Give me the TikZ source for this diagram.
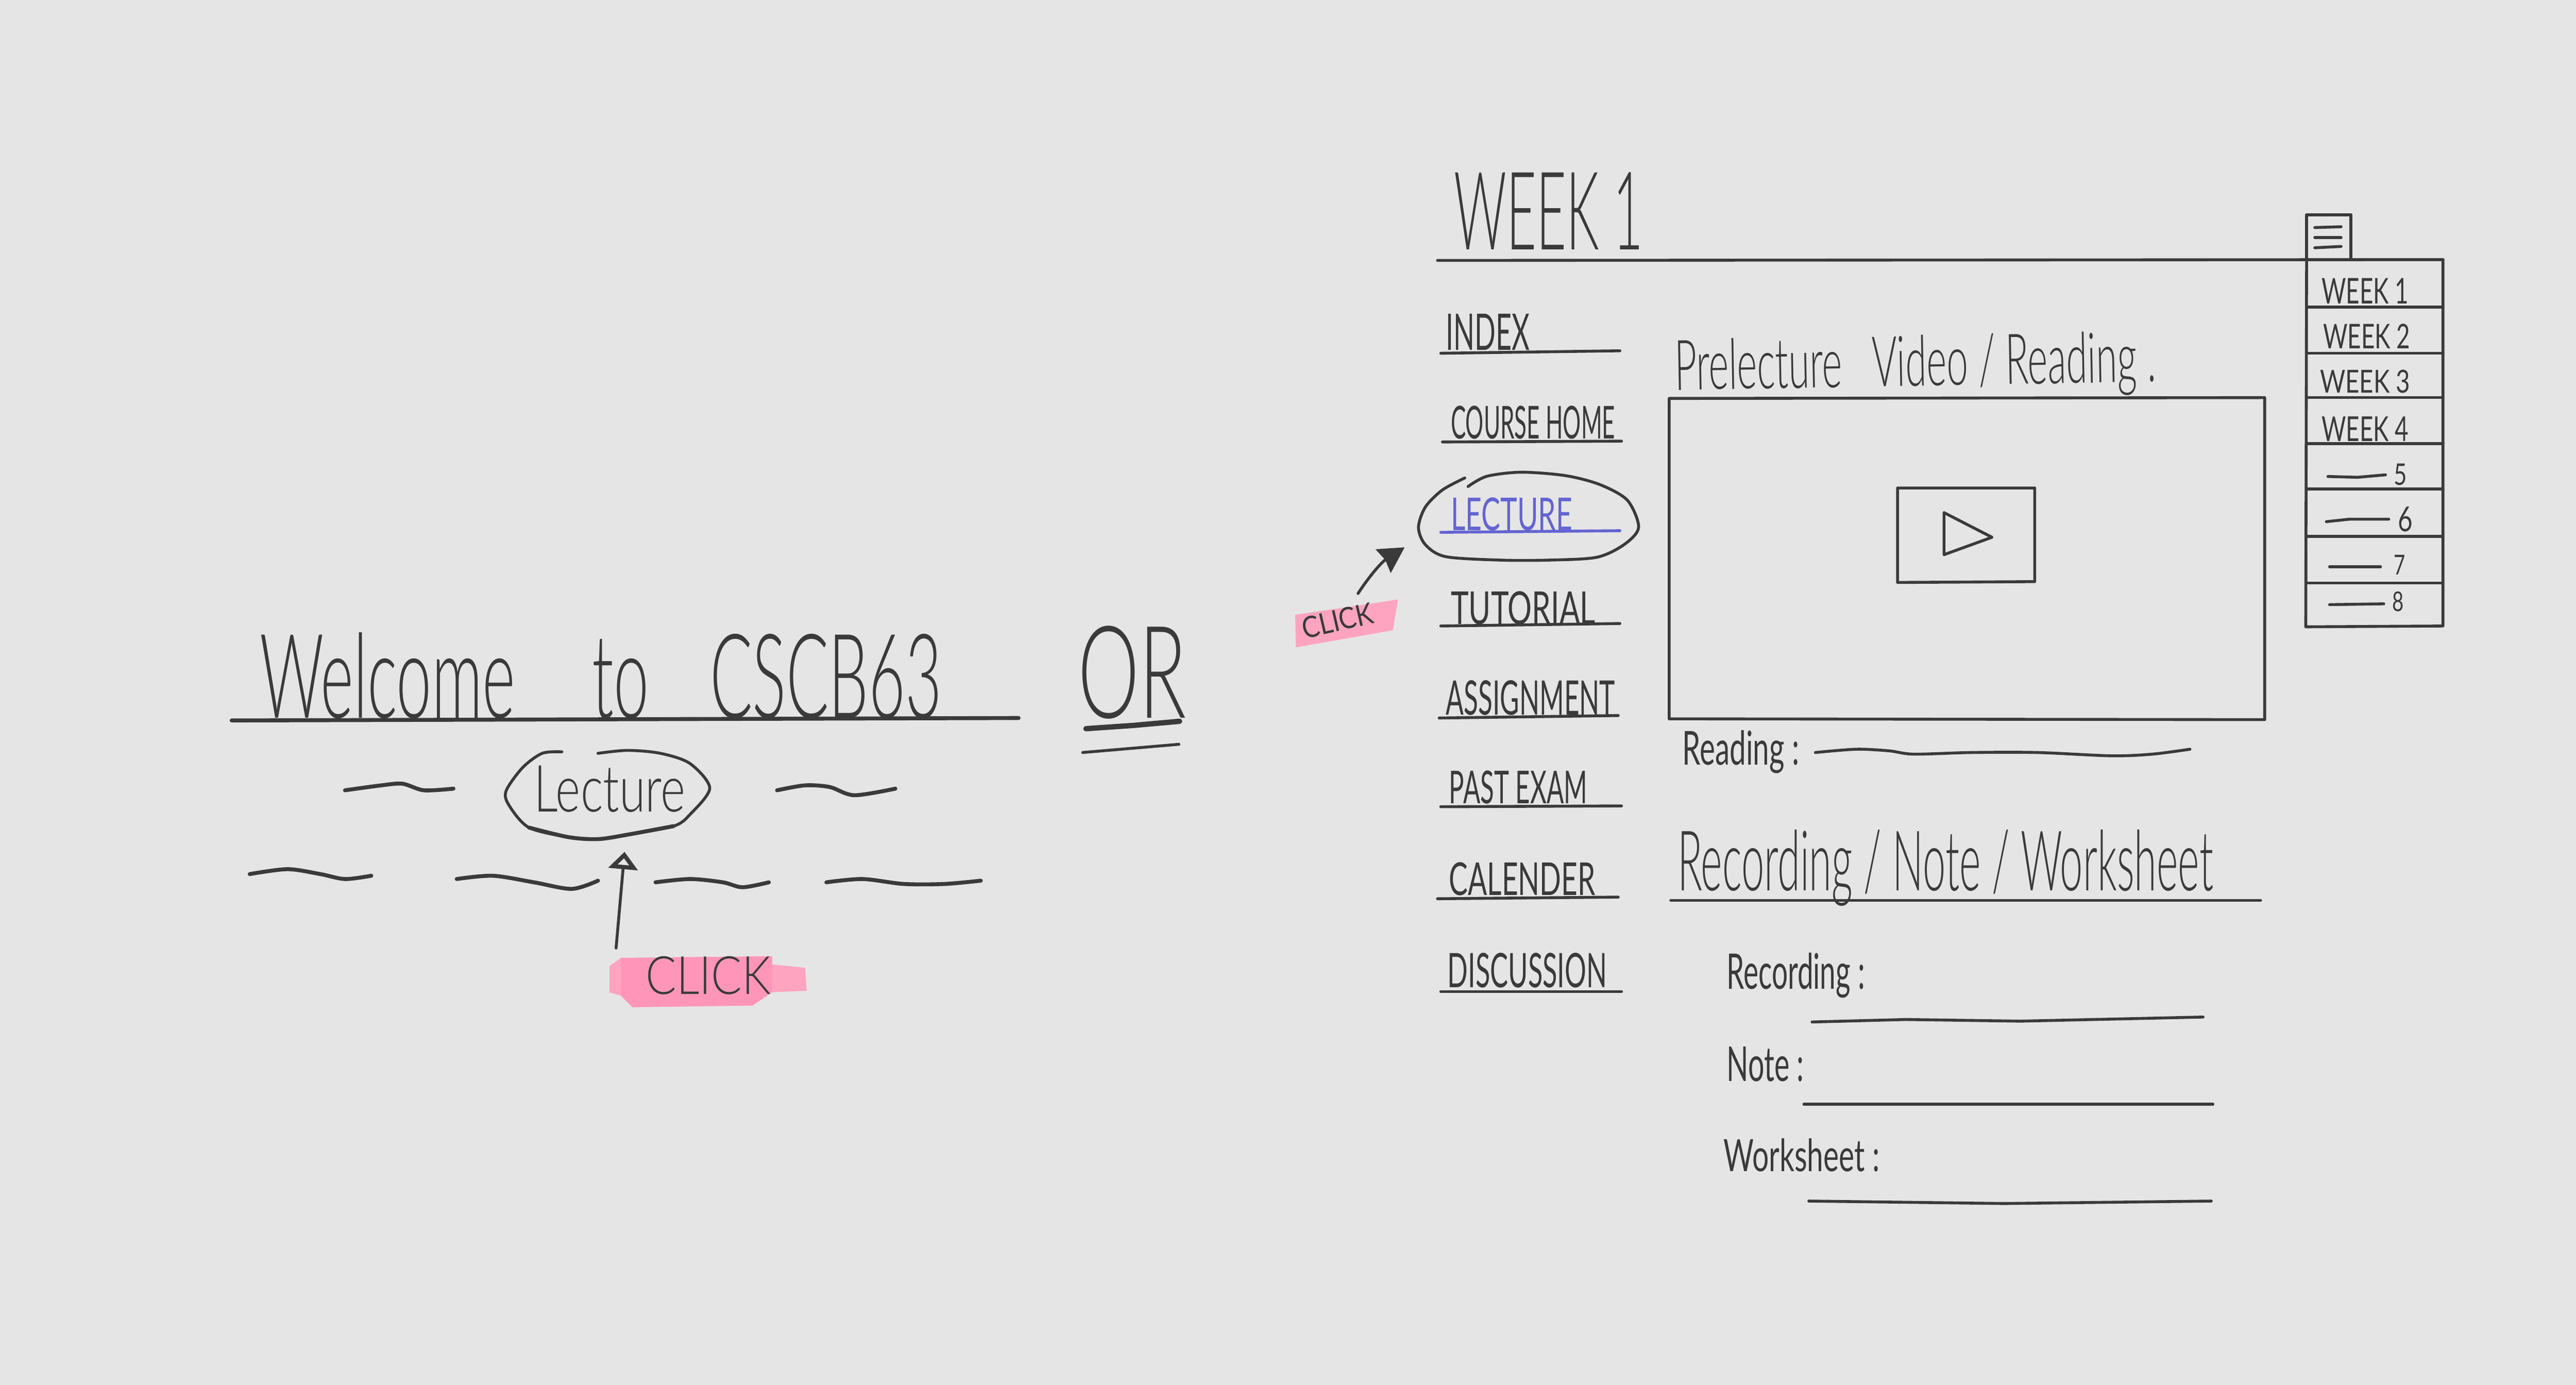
\documentclass[tikz,border=0pt]{standalone}
\usepackage{fontspec}
\usepackage{graphicx}
\usetikzlibrary{arrows.meta}
\newfontfamily\lighthand{Lato Light}
\newfontfamily\plainhand{Lato}
\newlength\pxu
\setlength\pxu{0.05cm}
\newcommand{\bighand}[3]{\resizebox{#1\pxu}{#2\pxu}{\lighthand #3}}
\newcommand{\smallhand}[3]{\resizebox{#1\pxu}{#2\pxu}{\plainhand #3}}
\definecolor{paper}{HTML}{E5E5E5}
\definecolor{ink}{HTML}{3A3A3A}
\definecolor{marker}{HTML}{FFA4C0}
\definecolor{darkmarker}{HTML}{FF96BA}
\definecolor{linkblue}{HTML}{6464D2}

\begin{document}
\begin{tikzpicture}[x=0.05cm, y=-0.05cm,
            pen/.style={draw=ink, line width=2.5pt, line cap=round, line join=round},
            thickpen/.style={pen, line width=3.4pt},
            label/.style={text=ink, inner sep=0pt, anchor=base west}]
            \useasboundingbox (0,0) rectangle (1568,842.8);
            \fill[paper] (0,0) rectangle (1568,842.8);

            % landing page
            \fill[marker] (378,583) -- (470,582) -- (470,587) -- (490,589) -- (491,603) -- (468,604) -- (458,612) -- (385,613) -- (378,606) -- (371,604) -- (371,588) -- cycle;
            \fill[darkmarker] (378,583) -- (470,582) -- (470,604) -- (458,612) -- (385,613) -- (378,606) -- cycle;
            \node[label] (welcome) at (158,437) {\bighand{415}{52}{Welcome \hspace{9.5pt}to \hspace{7pt}CSCB63}};
            \node[label] (ortext) at (656,437) {\bighand{66}{56}{OR}};
            \node[label] (lecturea) at (325,494) {\bighand{92}{28}{Lecture}};
            \node[label] (clicka) at (393,605) {\bighand{76}{23}{CLICK}};

            \draw[thickpen] (141,438.5) -- (620,437);
            \draw[pen, line width=4.6pt] (661,443.5) -- (690,441.5) -- (718,439);
            \draw[pen] (659,458) -- (717.6,453);
            \draw[pen] plot[smooth, tension=0.5] coordinates {(364,458.5) (382,456.7) (402,458.5) (420,464.7) (432,479.7) (420,495.7) (410,502.8) (382,508) (364,510.7) (346,509.5) (322,503.7) (310,490.4) (308,481.5) (318,467.3) (330,458.5) (342,457.6)};
            \draw[thickpen] plot[smooth, tension=0.5] coordinates {(410,502.8) (382,508) (364,510.7) (346,509.5) (322,503.7)};
            \draw[thickpen] plot[smooth] coordinates {(210,481) (232,478) (245,477) (258,481) (276,480)};
            \draw[thickpen] plot[smooth] coordinates {(473,481) (490,478) (505,479) (520,484) (545,480)};
            \draw[thickpen] plot[smooth] coordinates {(152,532) (175,529) (195,532) (210,535) (226,533)};
            \draw[thickpen] plot[smooth] coordinates {(278,535) (300,533) (325,537) (348,541) (364,536)};
            \draw[thickpen] plot[smooth] coordinates {(399,537) (420,535) (440,537) (452,540) (468,537)};
            \draw[thickpen] plot[smooth] coordinates {(503,537) (525,535) (550,538) (575,538) (597,536)};

            \draw[pen, -{Triangle[open, fill=paper, length=15pt, width=25pt, line width=3.6pt]}] ([shift={(-18,-28)}]clicka.base west) -- ([shift={(9,24)}]lecturea.south);

            % course page
            \node[label] (weekone) at (885,152) {\bighand{115}{47}{WEEK 1}};
            \draw[pen] (875,158.5) -- (1487,158);

            \node[label] (index) at (880,213) {\smallhand{51}{22}{INDEX}};
            \node[label] (home) at (883,267) {\smallhand{100}{20}{COURSE HOME}};
            \node[label, text=linkblue] (lectureb) at (883,323) {\smallhand{74}{20}{LECTURE}};
            \node[label] (tutorial) at (883,380) {\smallhand{88}{20}{TUTORIAL}};
            \node[label] (assignment) at (880,435) {\smallhand{103}{21}{ASSIGNMENT}};
            \node[label] (pastexam) at (882,489) {\smallhand{84}{20}{PAST EXAM}};
            \node[label] (calender) at (882,545) {\smallhand{89}{20}{CALENDER}};
            \node[label] (discussion) at (881,601) {\smallhand{97}{21}{DISCUSSION}};

            \draw[pen] (877,215) -- (986,213.5);
            \draw[pen] (878,269) -- (987,268.5);
            \draw[pen, draw=linkblue] (877,324) -- (986,323);
            \draw[pen] (877,381) -- (986,379.5);
            \draw[pen] (876,437) -- (985,435.5);
            \draw[pen] (877,491) -- (987,490.5);
            \draw[pen] (875,547) -- (985,546);
            \draw[pen] (877,603.5) -- (987,603.5);
            \draw[pen] plot[smooth, tension=0.5] coordinates {(893.6,296.1) (905,289.9) (926,287.4) (953,289.5) (974,295) (990.6,304.5) (997.4,321) (988.5,331.5) (971.8,339.2) (942.6,340.9) (913.4,340.9) (880,338.8) (867.6,331.5) (863.4,321) (867.6,308.6) (878,298.2) (891.6,290.9)};

            \fill[marker] (788.4,374.2) -- (850.9,364.9) -- (847.8,383.6) -- (788.8,394) -- cycle;
            \node[label, rotate=13] (clickb) at (794,389) {\smallhand{44}{13}{CLICK}};
            \draw[pen, -{Stealth[inset=2pt, length=22pt, width=24pt]}] ([shift={(14,-10)}]clickb.north) to[bend left=12] ([shift={(-28,20)}]lectureb.west);

            \node[label, rotate=1] (prelecture) at (1019.4,237.4) {\bighand{293}{31}{Prelecture \hspace{5pt}Video / Reading .}};
            \draw[pen] (1016,242.5) -- (1378.5,242) -- (1378.5,438) -- (1016,437.5) -- cycle;
            \draw[pen] (1155,297) -- (1238.5,297) -- (1238.5,354) -- (1155,354.5) -- cycle;
            \draw[pen] (1183.3,312) -- (1212.5,327) -- (1183.3,337.6) -- cycle;

            \node[label] (reading) at (1024,465.4) {\smallhand{71}{21}{Reading :}};
            \draw[pen] plot[smooth] coordinates {(1105,458) (1130,456) (1150,457) (1165,459) (1200,458) (1240,458) (1285,460) (1310,459) (1333,456)};

            \node[label] (recordhead) at (1021,542) {\bighand{326}{37}{Recording / Note / Worksheet}};
            \draw[pen] (1017,548) -- (1376,548);

            \node[label] (recording) at (1051,602) {\smallhand{84}{22}{Recording :}};
            \node[label] (note) at (1051,658) {\smallhand{47}{21}{Note :}};
            \node[label] (worksheet) at (1049,713) {\smallhand{95}{20}{Worksheet :}};
            \draw[pen] (1103,622) -- (1160,620.5) -- (1230,621.5) -- (1341,619);
            \draw[pen] (1098,672) -- (1347,672);
            \draw[pen] (1101,731) -- (1220,732.5) -- (1346,731);

            % week menu
            \draw[pen] (1404,158) -- (1404,130.7) -- (1431,130.7) -- (1431,158);
            \draw[pen] (1409,138.5) -- (1425,138);
            \draw[pen] (1409,144.5) -- (1425,144.5);
            \draw[pen] (1409,150.8) -- (1425,150);
            \draw[pen] (1404,158) -- (1487,158) -- (1487,381) -- (1403.5,381.5) -- cycle;
            \draw[pen] (1404,187) -- (1487,187);
            \draw[pen] (1404,215) -- (1487,215);
            \draw[pen] (1404,242) -- (1487,242);
            \draw[pen] (1404,270) -- (1487,270);
            \draw[pen] (1404,297.6) -- (1487,297.6);
            \draw[pen] (1404,326.4) -- (1487,326.4);
            \draw[pen] (1404,354.8) -- (1487,354.8);

            \node[label] (weeka) at (1413,185) {\smallhand{53}{15.5}{WEEK 1}};
            \node[label] (weekb) at (1414,212) {\smallhand{53}{15}{WEEK 2}};
            \node[label] (weekc) at (1412,239) {\smallhand{55}{14}{WEEK 3}};
            \node[label] (weekd) at (1413,268.5) {\smallhand{53}{15}{WEEK 4}};
            \node[label] (weeke) at (1457,295.3) {\smallhand{8}{13}{5}};
            \node[label] (weekf) at (1459.5,323.5) {\smallhand{9}{15}{6}};
            \node[label] (weekg) at (1457,349.7) {\smallhand{7}{12}{7}};
            \node[label] (weekh) at (1456,372) {\smallhand{7}{12}{8}};
            \draw[pen] (1417,290) -- (1435,290.5) -- (1452,289);
            \draw[pen] (1416,317.5) -- (1430,316) -- (1454,316);
            \draw[pen] (1418,345) -- (1449,345);
            \draw[pen] (1418,368) -- (1451,367.5);
        \end{tikzpicture}
\end{document}
